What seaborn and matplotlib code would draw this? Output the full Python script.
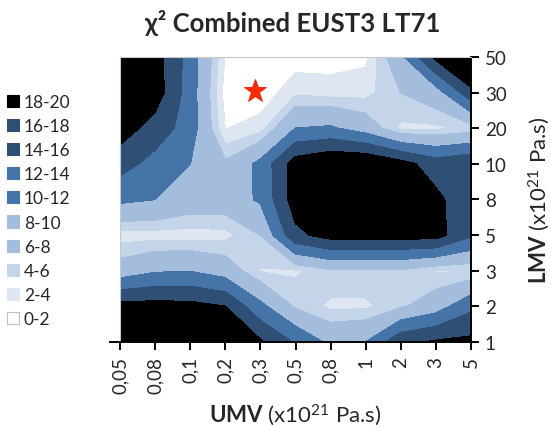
import numpy as np
import matplotlib
matplotlib.use("Agg")
import matplotlib.pyplot as plt
from matplotlib.patches import Patch
from matplotlib.colors import ListedColormap, BoundaryNorm
import seaborn as sns

# Axis categories (viscosities in 10^21 Pa.s)
umv_labels = ["0,05", "0,08", "0,1", "0,2", "0,3", "0,5", "0,8", "1", "2", "3", "5"]
lmv_labels = ["1", "2", "3", "5", "8", "10", "20", "30", "50"]

# Combined chi-square misfit, one list per LMV value, ordered along UMV
chi2_lmv_1 = [22, 22, 22, 21, 18.5, 13.5, 9, 10, 17, 18.5, 19]
chi2_lmv_2 = [19.5, 19.5, 19.3, 18, 11, 5.5, 3.5, 3.5, 5.5, 8, 13]
chi2_lmv_3 = [7.5, 9.5, 9.8, 8, 3.8, 3.6, 5.5, 5.5, 5.5, 3.8, 3.7]
chi2_lmv_5 = [3, 3, 3, 3.2, 6, 17, 19.5, 19.5, 19.5, 19.5, 14.5]
chi2_lmv_8 = [10.8, 10, 8, 8, 10.5, 20, 24, 24, 24, 19, 15]
chi2_lmv_10 = [15.6, 12.5, 10, 6.5, 11, 20, 22, 22, 19.5, 16, 17.5]
chi2_lmv_20 = [20, 16.3, 12, 1.9, 3, 10, 10.5, 8, 3.5, 3.5, 4.5]
chi2_lmv_30 = [22, 20, 12, 1, 0.5, 3.5, 3, 3.2, 6, 8, 16.5]
chi2_lmv_50 = [22, 19.8, 12.2, 1.8, 0.8, 0.8, 1.0, 1.5, 9, 19, 26]

# Best-fitting model (position in category units: UMV index, LMV index)
best_fit = (3.85, 7.05)

# Contour bands
band_edges = [0, 2, 4, 6, 8, 10, 12, 14, 16, 18, 20]
band_labels = ["0-2", "2-4", "4-6", "6-8", "8-10", "10-12", "12-14", "14-16", "16-18", "18-20"]
band_colors = ["#ffffff", "#dee6f2", "#c4d5ea", "#a4bddc", "#a4bddc",
               "#4574a8", "#4574a8", "#2f4f74", "#2f4f74", "#000000"]

sns.set_theme(style="white")
plt.rcParams["font.family"] = ["Lato", "DejaVu Sans"]
plt.rcParams["mathtext.fontset"] = "custom"
plt.rcParams["mathtext.rm"] = "Lato"
plt.rcParams["mathtext.bf"] = "Lato:bold"
plt.rcParams["mathtext.it"] = "Lato:italic"

grid = np.array([chi2_lmv_1, chi2_lmv_2, chi2_lmv_3, chi2_lmv_5, chi2_lmv_8,
                 chi2_lmv_10, chi2_lmv_20, chi2_lmv_30, chi2_lmv_50])
xs = np.arange(len(umv_labels))
ys = np.arange(len(lmv_labels))

fig = plt.figure(figsize=(5.51, 4.27), dpi=100)
ax = fig.add_axes([0.2178, 0.1967, 0.637, 0.6675])

cmap = ListedColormap(band_colors)
cmap.set_over("#000000")
norm = BoundaryNorm(band_edges, cmap.N)
cs = ax.contourf(xs, ys, grid, levels=band_edges, cmap=cmap, norm=norm, extend="max")
cs.set_edgecolor("face")
cs.set_linewidth(0.4)

ax.plot(*best_fit, marker="*", markersize=17, color="#ff2a00",
        markeredgecolor="#e81f00", markeredgewidth=0.6, linestyle="none")

ax.set_xlim(xs[0], xs[-1])
ax.set_ylim(ys[0], ys[-1])
ax.set_xticks(xs)
ax.set_xticklabels(umv_labels, rotation=90, fontsize=13.5)
ax.yaxis.tick_right()
ax.set_yticks(ys)
ax.set_yticklabels(lmv_labels, fontsize=13.5)
ax.tick_params(axis="both", which="both", direction="out", length=6, width=1.4,
               color="black", pad=4, bottom=True, right=True, left=False, top=False)

for side in ("left", "top"):
    ax.spines[side].set_color("#c8c8c8")
    ax.spines[side].set_linewidth(0.8)
for side in ("bottom", "right"):
    ax.spines[side].set_color("black")
    ax.spines[side].set_linewidth(1.4)
ax.spines["bottom"].set_bounds(-0.28, xs[-1])

ax.set_xlabel(r"$\mathbf{UMV}$ (x10$^{21}$ Pa.s)", fontsize=16, labelpad=6)
ax.yaxis.set_label_position("right")
ax.set_ylabel(r"$\mathbf{LMV}$ (x10$^{21}$ Pa.s)", fontsize=16, labelpad=14)

fig.text(0.532, 0.946, "χ² Combined EUST3 LT71", ha="center", va="center",
         fontsize=18.5, fontweight="bold", family=["Lato", "DejaVu Sans"])

handles = [Patch(facecolor=c, edgecolor=("#bfbfbf" if c == "#ffffff" else c), linewidth=0.8)
           for c in band_colors]
fig.legend(handles[::-1], band_labels[::-1], loc="upper left",
           bbox_to_anchor=(0.012, 0.778), frameon=False, fontsize=12.5,
           handlelength=0.7, handleheight=0.7, handletextpad=0.3,
           labelspacing=0.47, borderpad=0, borderaxespad=0)

fig.savefig("out.png", dpi=100)
